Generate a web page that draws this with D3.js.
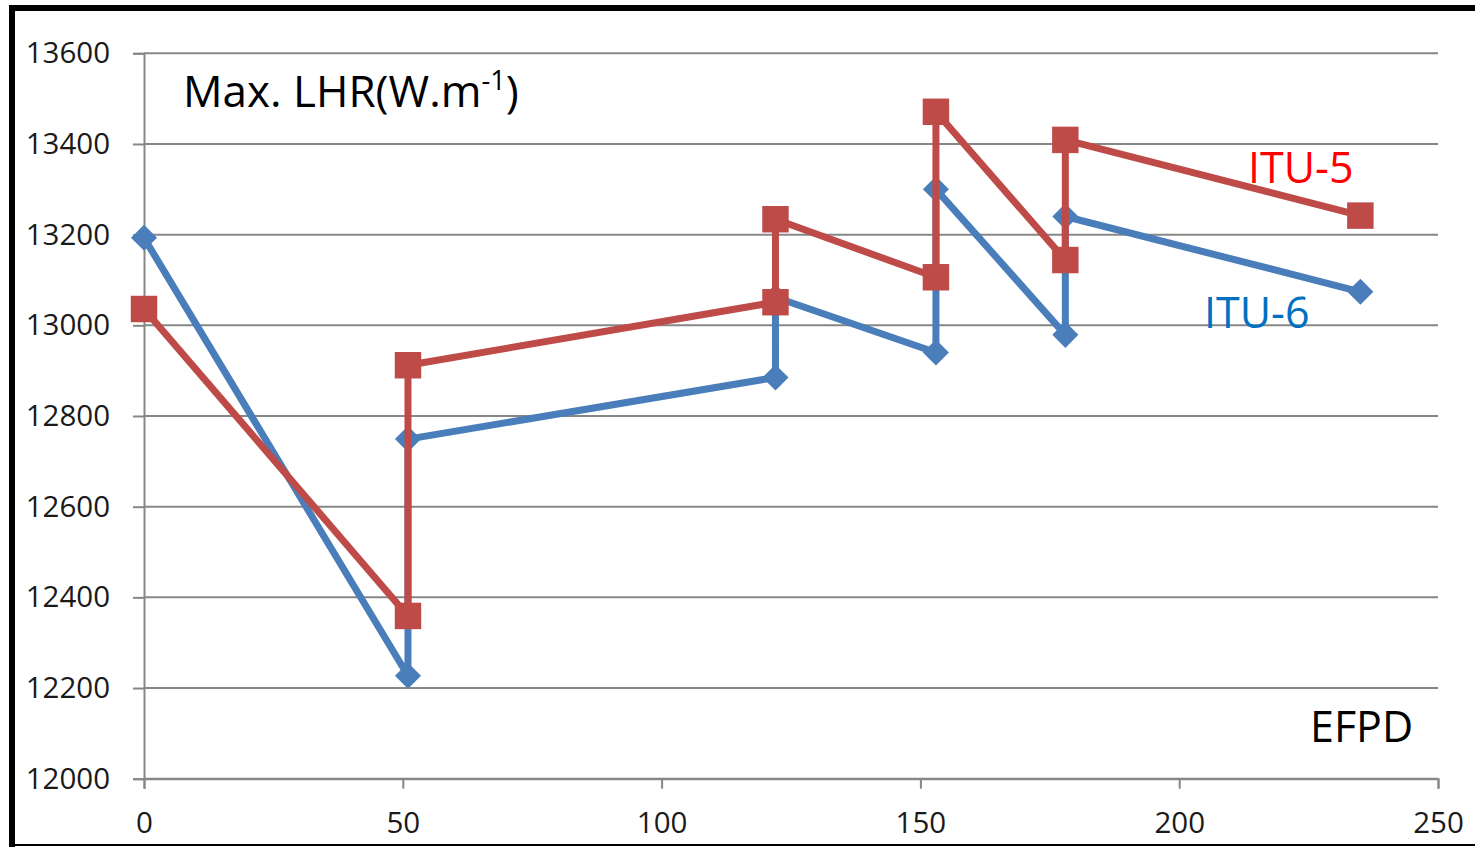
<!DOCTYPE html>
<html>
<head>
<meta charset="utf-8">
<script src="https://cdn.jsdelivr.net/npm/d3@7"></script>
<style>
  html, body { margin: 0; padding: 0; background: #fff; }
  svg { display: block; }
  text { font-family: "Open Sans", "Noto Sans", sans-serif; }
</style>
</head>
<body>
<svg id="chart" width="1475" height="847"></svg>
<script>
// ---- data ----
const efpd6   = [0, 51, 51, 122, 122, 153, 153, 178, 178, 235];
const itu6    = [13193, 12227, 12749, 12885, 13062, 12940, 13300, 12979, 13240, 13074];
const efpd5   = [0, 51, 51, 122, 122, 153, 153, 178, 178, 235];
const itu5    = [13036, 12359, 12912, 13051, 13234, 13106, 13471, 13144, 13409, 13242];
const xTicks  = [0, 50, 100, 150, 200, 250];
const yTicks  = [12000, 12200, 12400, 12600, 12800, 13000, 13200, 13400, 13600];
const seriesNames = ["ITU-6", "ITU-5"];

const svg = d3.select("#chart");
const W = 1475, H = 847;
const m = { left: 144, right: 1438, top: 53.3, bottom: 778.7 };

svg.append("rect").attr("width", W).attr("height", H).attr("fill", "#fff");

const x = d3.scaleLinear().domain([0, 250]).range([m.left, m.right]);
const y = d3.scaleLinear().domain([12000, 13600]).range([m.bottom, m.top]);

const gridColor = "#878787";

// horizontal gridlines
svg.append("g").selectAll("line").data(yTicks).join("line")
  .attr("x1", m.left).attr("x2", m.right)
  .attr("y1", d => y(d)).attr("y2", d => y(d))
  .attr("stroke", gridColor).attr("stroke-width", 2);

// y axis
const yAxis = svg.append("g").attr("transform", `translate(${m.left},0)`)
  .call(d3.axisLeft(y).tickValues(yTicks).tickSize(11).tickPadding(23).tickFormat(d3.format("d")));
yAxis.select(".domain").attr("stroke", gridColor).attr("stroke-width", 2);
yAxis.selectAll(".tick line").attr("stroke", gridColor).attr("stroke-width", 2);
yAxis.selectAll(".tick text").attr("font-size", 29.5).attr("fill", "#1a1a1a")
  .attr("font-family", "'Open Sans', sans-serif");

// x axis
const xAxis = svg.append("g").attr("transform", `translate(0,${m.bottom})`)
  .call(d3.axisBottom(x).tickValues(xTicks).tickSize(10).tickPadding(23).tickFormat(d3.format("d")));
xAxis.select(".domain").attr("stroke", gridColor).attr("stroke-width", 2);
xAxis.selectAll(".tick line").attr("stroke", gridColor).attr("stroke-width", 2);
xAxis.selectAll(".tick text").attr("font-size", 29.5).attr("fill", "#1a1a1a")
  .attr("font-family", "'Open Sans', sans-serif");

// series
const series = [
  { name: seriesNames[0], xs: efpd6, ys: itu6, color: "#4A7EBB", marker: "diamond" },
  { name: seriesNames[1], xs: efpd5, ys: itu5, color: "#BE4B48", marker: "square" }
];

const line = d3.line().x(d => x(d[0])).y(d => y(d[1]));

series.forEach(s => {
  const pts = s.xs.map((v, i) => [v, s.ys[i]]);
  const g = svg.append("g");
  g.append("path").datum(pts)
    .attr("d", line)
    .attr("fill", "none")
    .attr("stroke", s.color)
    .attr("stroke-width", 7)
    .attr("stroke-linejoin", "round");
  const sym = s.marker === "square"
    ? d3.symbol(d3.symbolSquare, 700)
    : d3.symbol(d3.symbolSquare, 340);
  g.selectAll("path.mk").data(pts).join("path")
    .attr("class", "mk")
    .attr("d", sym)
    .attr("transform", d => `translate(${x(d[0])},${y(d[1])})` + (s.marker === "diamond" ? " rotate(45)" : ""))
    .attr("fill", s.color);
});

// title
const title = svg.append("text").attr("x", 183).attr("y", 107)
  .attr("font-size", 44).attr("fill", "#000");
title.append("tspan").text("Max. LHR(W.m");
title.append("tspan").attr("font-size", 27).attr("dy", -17).text("-1");
title.append("tspan").attr("dy", 17).text(")");

// x label
svg.append("text").attr("x", 1310).attr("y", 742)
  .attr("font-size", 43).attr("fill", "#000").text("EFPD");

// series labels
svg.append("text").attr("x", 1248).attr("y", 183)
  .attr("font-size", 43).attr("fill", "#FF0000").text(seriesNames[1]);
svg.append("text").attr("x", 1204).attr("y", 328)
  .attr("font-size", 43).attr("fill", "#0070C0").text(seriesNames[0]);

// outer frame (black border on top, left, bottom)
svg.append("rect").attr("x", 9).attr("y", 5).attr("width", W - 9).attr("height", 6).attr("fill", "#000");
svg.append("rect").attr("x", 9).attr("y", 5).attr("width", 6).attr("height", 842).attr("fill", "#000");
svg.append("rect").attr("x", 9).attr("y", 844).attr("width", W - 9).attr("height", 2).attr("fill", "#000");
</script>
</body>
</html>
